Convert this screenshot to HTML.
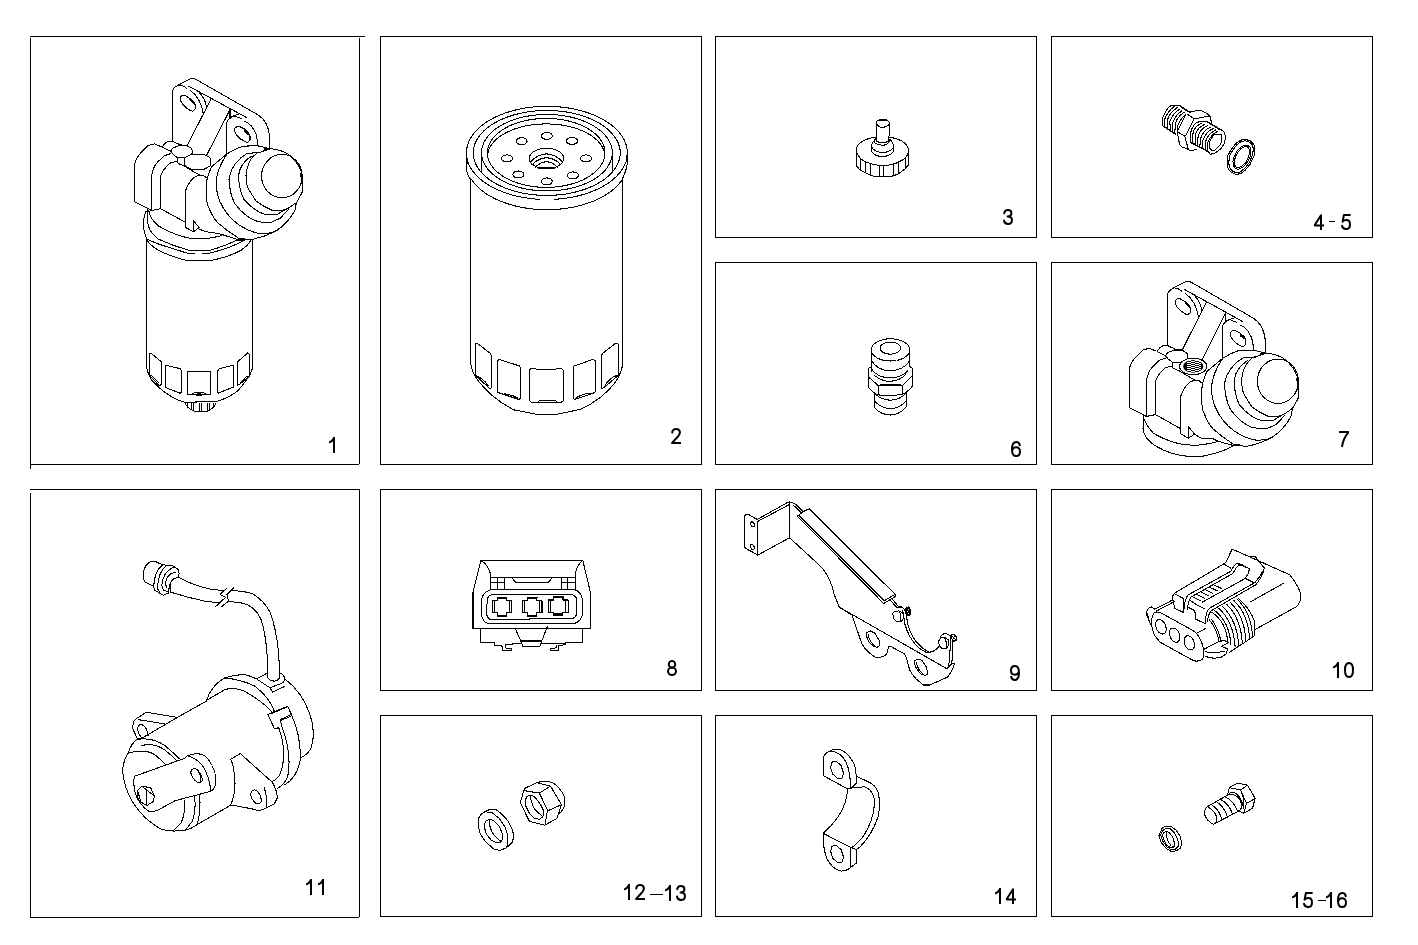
<!DOCTYPE html>
<html><head><meta charset="utf-8">
<style>
html,body{margin:0;padding:0;background:#fff;}
body{width:1418px;height:945px;overflow:hidden;position:relative;font-family:"Liberation Sans",sans-serif;}
svg{position:absolute;left:0;top:0;}
.bx{fill:none;stroke:#000;stroke-width:1;shape-rendering:crispEdges;}
.d path,.d ellipse,.d circle,.d line,.d polyline,.d polygon,.d rect{fill:none;stroke:#000;stroke-width:1.03;shape-rendering:crispEdges;stroke-linecap:round;stroke-linejoin:round;}
.d .w{fill:#fff;}
.d .k{fill:#000;}
.d .t{stroke-width:2;}
.g path,.g ellipse{fill:none;stroke:#000;stroke-width:2;stroke-linecap:butt;stroke-linejoin:round;}
.g .r{stroke-linecap:round;}
.ds{stroke:#000;stroke-width:1;shape-rendering:crispEdges;}
</style></head>
<body>
<svg width="1418" height="945" viewBox="0 0 1418 945">
<g class="bx">
<path d="M30 36.5H365 M30.5 38V469 M359.5 38V464 M30 464.5H359"/>
<path d="M30 489.5H359 M30.5 493V917 M359.5 489V917 M30 917.5H359"/>
<rect x="380.5" y="36.5" width="321" height="428"/>
<rect x="715.5" y="36.5" width="321" height="201"/>
<rect x="1051.5" y="36.5" width="321" height="201"/>
<rect x="715.5" y="262.5" width="321" height="202"/>
<rect x="1051.5" y="262.5" width="321" height="202"/>
<rect x="380.5" y="489.5" width="321" height="201"/>
<rect x="715.5" y="489.5" width="321" height="201"/>
<rect x="1051.5" y="489.5" width="321" height="201"/>
<rect x="380.5" y="715.5" width="321" height="201"/>
<rect x="715.5" y="715.5" width="321" height="201"/>
<rect x="1051.5" y="715.5" width="321" height="201"/>
</g>
<g class="g">
<g transform="translate(329,437)"><path d="M5 0V16"/><path class="r" d="M4.6 1.6L3 3.8L0.9 5.1"/></g>
<g transform="translate(671,428)"><path class="r" d="M1.2 4.6C1.4 2.3 2.8 1 5 1C7.4 1 8.9 2.4 8.9 4.5C8.9 6.5 7.7 7.9 5.6 10L1.5 14.4"/><path d="M0.4 15H10"/></g>
<g transform="translate(1003,209)"><path class="r" d="M1.2 4.3C1.6 2.2 2.9 1 4.9 1C7 1 8.4 2.3 8.4 4.2C8.4 6 7.2 7.3 4.6 7.4C7.6 7.4 9 9 9 11C9 13.4 7.4 15 5 15C2.8 15 1.4 13.8 1 11.5"/></g>
<g transform="translate(1314,214)"><path d="M7 16V1.2L0.9 10.8V11.5H10"/></g>
<g transform="translate(1341,214)"><path class="r" d="M8.9 1H2.9L1.6 7.7C2.6 6.5 3.8 6 5.2 6C7.6 6 9 7.8 9 10.4C9 13.1 7.4 15 5 15C2.8 15 1.4 13.8 1 11.7"/></g>
<g transform="translate(1011,441)"><path class="r" d="M8.8 4.3C8.4 2.2 7.2 1 5.2 1C2.4 1 1 3.8 1 8.4C1 12.8 2.4 15 5.1 15C7.5 15 9 13.2 9 10.5C9 7.9 7.5 6.3 5.2 6.3C3.2 6.3 1.6 7.5 1.1 9.5"/></g>
<g transform="translate(1339,431)"><path d="M0 1H10"/><path d="M9.2 1.6C6 5.2 3.8 10 3 16"/></g>
<g transform="translate(667,660)"><ellipse cx="5" cy="4.4" rx="3.2" ry="3.4"/><ellipse cx="5" cy="11.3" rx="4" ry="3.7"/></g>
<g transform="translate(1010,665)"><path class="r" d="M1.2 11.7C1.6 13.8 2.8 15 4.8 15C7.6 15 9 12.2 9 7.6C9 3.2 7.6 1 4.9 1C2.5 1 1 2.8 1 5.5C1 8.1 2.5 9.7 4.8 9.7C6.8 9.7 8.4 8.5 8.9 6.5"/></g>
<g transform="translate(1333,662)"><path d="M5 0V16"/><path class="r" d="M4.6 1.6L3 3.8L0.9 5.1"/></g>
<g transform="translate(1344,662)"><path d="M5 1C2.3 1 1 3.6 1 8C1 12.4 2.3 15 5 15C7.7 15 9 12.4 9 8C9 3.6 7.7 1 5 1Z"/></g>
<g transform="translate(306,879)"><path d="M5 0V16"/><path class="r" d="M4.6 1.6L3 3.8L0.9 5.1"/></g>
<g transform="translate(318,879)"><path d="M5 0V16"/><path class="r" d="M4.6 1.6L3 3.8L0.9 5.1"/></g>
<g transform="translate(624,884)"><path d="M5 0V16"/><path class="r" d="M4.6 1.6L3 3.8L0.9 5.1"/></g>
<g transform="translate(635,884)"><path class="r" d="M1.2 4.6C1.4 2.3 2.8 1 5 1C7.4 1 8.9 2.4 8.9 4.5C8.9 6.5 7.7 7.9 5.6 10L1.5 14.4"/><path d="M0.4 15H10"/></g>
<g transform="translate(665,885)"><path d="M5 0V16"/><path class="r" d="M4.6 1.6L3 3.8L0.9 5.1"/></g>
<g transform="translate(676,885)"><path class="r" d="M1.2 4.3C1.6 2.2 2.9 1 4.9 1C7 1 8.4 2.3 8.4 4.2C8.4 6 7.2 7.3 4.6 7.4C7.6 7.4 9 9 9 11C9 13.4 7.4 15 5 15C2.8 15 1.4 13.8 1 11.5"/></g>
<g transform="translate(995,888)"><path d="M5 0V16"/><path class="r" d="M4.6 1.6L3 3.8L0.9 5.1"/></g>
<g transform="translate(1006,888)"><path d="M7 16V1.2L0.9 10.8V11.5H10"/></g>
<g transform="translate(1292,892)"><path d="M5 0V16"/><path class="r" d="M4.6 1.6L3 3.8L0.9 5.1"/></g>
<g transform="translate(1303,892)"><path class="r" d="M8.9 1H2.9L1.6 7.7C2.6 6.5 3.8 6 5.2 6C7.6 6 9 7.8 9 10.4C9 13.1 7.4 15 5 15C2.8 15 1.4 13.8 1 11.7"/></g>
<g transform="translate(1326,892)"><path d="M5 0V16"/><path class="r" d="M4.6 1.6L3 3.8L0.9 5.1"/></g>
<g transform="translate(1337,892)"><path class="r" d="M8.8 4.3C8.4 2.2 7.2 1 5.2 1C2.4 1 1 3.8 1 8.4C1 12.8 2.4 15 5.1 15C7.5 15 9 13.2 9 10.5C9 7.9 7.5 6.3 5.2 6.3C3.2 6.3 1.6 7.5 1.1 9.5"/></g>
</g>
<line class="ds" x1="1329" y1="221.5" x2="1335" y2="221.5"/>
<line class="ds" x1="650" y1="894.5" x2="663" y2="894.5"/>
<line class="ds" x1="1318" y1="900.5" x2="1326" y2="900.5"/>
<g class="d">
<g id="p7">
<path d="M1167.4 345.2L1167.4 295.3Q1167.8 291.1 1172.5 288.5L1184.3 282.2Q1187.7 280.2 1191.9 282.6L1250.8 316.7Q1259.2 321.4 1262.2 328.2Q1265.3 334.9 1265.6 343.4L1265.6 352.7"/>
<path d="M1175.0 288.1Q1179.2 288.4 1181.8 291.5"/>
<path d="M1183.9 289.2L1225.8 312.2L1242.7 321.6"/>
<path d="M1185.2 293.2Q1196.2 301.2 1198.5 317.3"/>
<path d="M1194.5 295.7Q1200.4 301.2 1201.7 310.4"/>
<path d="M1206.3 302.5L1182.2 350.0"/>
<path d="M1225.8 312.7L1201.7 360.3"/>
<path d="M1225.6 312.5L1225.6 322.2"/>
<path d="M1222.4 358.2L1222.4 326.5Q1224.1 321.4 1229.6 319.5L1236.8 322.4"/>
<path d="M1229.6 319.5L1234.3 317.8"/>
<path d="M1240.2 325.2Q1244.0 326.3 1247.4 330.3L1251.6 337.5Q1253.3 343.4 1253.5 350.2"/>
<path d="M1175.4 300.4L1177.5 298.3L1179.2 298.3L1184.3 301.2L1189.4 306.3L1190.7 308.8L1190.2 312.7L1187.7 314.8L1186.0 314.4L1180.9 311.0L1177.5 307.6L1175.4 303.8Z"/>
<path class="t" d="M1185.6 302.5L1189.0 306.3"/>
<path d="M1230.5 332.4L1232.6 330.3L1234.7 330.3L1239.8 332.8L1244.0 336.6L1245.7 340.0L1245.7 344.2L1243.6 346.6L1241.9 346.4L1236.4 343.4L1232.6 339.6L1230.3 335.8Z"/>
<path class="t" d="M1240.6 335.4L1243.6 337.9"/>
<path d="M1156.0 351.0L1149.2 348.3L1142.8 350.0L1134.8 358.2Q1130.2 363.7 1129.3 369.6L1129.3 407.7L1143.7 415.0L1146.2 416.5L1155.5 414.6"/>
<path d="M1165.7 358.2L1159.4 360.3L1152.2 367.1Q1147.9 372.2 1146.7 379.8L1146.7 416.5"/>
<path d="M1179.2 370.9L1173.3 368.3L1172.0 366.2L1165.7 367.5Q1157.2 374.7 1155.5 381.5L1155.5 414.6L1180.5 428.6"/>
<path d="M1179.2 370.9L1194.9 380.2L1198.7 380.5L1202.1 383.2"/>
<path d="M1167.4 345.5L1163.2 345.5Q1158.9 347.6 1157.2 351.4L1165.7 356.1"/>
<path d="M1167.4 345.5L1175.0 349.1L1182.2 350.0"/>
<path d="M1165.7 355.7L1167.4 352.7L1174.2 350.0L1182.2 350.2L1186.9 353.1L1187.7 356.9L1186.9 359.0L1180.9 362.2L1172.5 362.4L1167.8 358.6Z"/>
<path d="M1172.5 362.4L1172.0 366.2"/>
<path d="M1265.6 353.0L1253.5 350.2L1238.9 350.5Q1230.5 353.0 1222.4 358.5L1206.7 371.7"/>
<path d="M1206.7 371.7L1202.5 383.2Q1200.6 395.2 1202.5 409.5Q1208.0 423.9 1213.1 429.0Q1221.5 436.6 1233.4 444.2L1233.8 444.7L1245.7 446.4Q1259.2 444.2 1271.9 437.5Q1284.6 429.0 1291.0 416.3L1292.7 407.8"/>
<path d="M1222.4 359.0Q1212.7 372.9 1211.4 387.3Q1211.8 399.4 1215.2 407.0Q1222.0 422.2 1233.8 430.7Q1246.5 439.2 1257.5 440.4L1267.7 439.2L1272.8 436.8"/>
<path d="M1243.2 357.7Q1227.9 367.0 1224.8 382.2L1224.5 385.0Q1225.4 400.2 1230.5 409.5Q1239.8 422.2 1250.8 426.9L1258.4 428.6L1267.7 428.3L1276.2 424.4L1284.6 415.5"/>
<path d="M1247.4 360.7Q1236.0 367.8 1234.3 379.7L1234.3 385.0Q1235.5 397.7 1239.8 405.3Q1249.9 417.2 1260.1 420.1L1273.6 420.1L1281.2 415.6L1284.6 413.8"/>
<path d="M1254.2 356.8Q1243.2 362.8 1241.6 380.5L1241.9 385.0Q1242.3 390.9 1244.0 394.3L1251.6 406.6Q1258.4 412.1 1267.7 416.1L1278.7 416.3L1284.6 413.8L1292.7 408.3"/>
<path d="M1265.6 353.0Q1276.2 354.1 1282.9 357.9Q1293.1 364.9 1297.1 376.3Q1298.8 382.2 1298.6 397.5L1292.7 408.5"/>
<path d="M1243.2 357.7L1254.2 357.5L1265.6 353.3"/>
<path class="t" d="M1260.9 353.7L1265.6 353.2"/>
<path class="t" d="M1297.3 378.8L1298.3 389.0"/>
<path d="M1194.9 380.5Q1190.2 381.0 1186.9 384.9Q1180.9 392.5 1180.5 398.4L1180.5 398.5L1180.5 433.7L1188.4 438.3L1188.4 426.5L1194.5 434.1L1188.4 438.3"/>
<path d="M1194.5 434.1L1201.2 438.3L1212.2 438.3L1218.2 441.3L1233.4 445.5"/>
<path class="t" d="M1233.4 445.3L1240.0 445.4"/>
<path d="M1143.7 415.5L1143.0 429.0Q1144.5 439.2 1155.5 445.9Q1170.8 455.2 1189.4 456.5L1201.2 456.5Q1221.5 452.7 1233.4 445.9"/>
<path d="M1144.1 418.8Q1145.4 423.9 1153.0 432.8Q1162.3 439.2 1179.2 443.8L1194.5 445.5Q1208.9 444.2 1218.2 441.5"/>
<ellipse cx="1277.9" cy="381.2" rx="20.5" ry="22.2"/>
<ellipse cx="1193.2" cy="366.4" rx="13.6" ry="8.3"/>
<clipPath id="pc"><ellipse cx="1193.2" cy="366.4" rx="10" ry="6.4"/></clipPath>
<g clip-path="url(#pc)" style="shape-rendering:crispEdges"><rect x="1182" y="358" width="4.8" height="17" style="fill:#000;stroke:none"/><rect x="1201.4" y="358" width="3" height="17" style="fill:#000;stroke:none"/><rect x="1187.2" y="359" width="3.8" height="1" style="fill:#000;stroke:none"/><rect x="1187.2" y="361" width="3.8" height="1" style="fill:#000;stroke:none"/><rect x="1187.2" y="363" width="3.8" height="1" style="fill:#000;stroke:none"/><rect x="1187.2" y="365" width="3.8" height="1" style="fill:#000;stroke:none"/><rect x="1187.2" y="367" width="3.8" height="1" style="fill:#000;stroke:none"/><rect x="1187.2" y="369" width="3.8" height="1" style="fill:#000;stroke:none"/><rect x="1187.2" y="371" width="3.8" height="1" style="fill:#000;stroke:none"/><rect x="1187.2" y="373" width="3.8" height="1" style="fill:#000;stroke:none"/><rect x="1191.2" y="360" width="3.9" height="1" style="fill:#000;stroke:none"/><rect x="1191.2" y="362" width="3.9" height="1" style="fill:#000;stroke:none"/><rect x="1191.2" y="364" width="3.9" height="1" style="fill:#000;stroke:none"/><rect x="1191.2" y="366" width="3.9" height="1" style="fill:#000;stroke:none"/><rect x="1191.2" y="368" width="3.9" height="1" style="fill:#000;stroke:none"/><rect x="1191.2" y="370" width="3.9" height="1" style="fill:#000;stroke:none"/><rect x="1191.2" y="372" width="3.9" height="1" style="fill:#000;stroke:none"/><rect x="1195.4" y="359" width="3.8" height="1" style="fill:#000;stroke:none"/><rect x="1195.4" y="361" width="3.8" height="1" style="fill:#000;stroke:none"/><rect x="1195.4" y="363" width="3.8" height="1" style="fill:#000;stroke:none"/><rect x="1195.4" y="365" width="3.8" height="1" style="fill:#000;stroke:none"/><rect x="1195.4" y="367" width="3.8" height="1" style="fill:#000;stroke:none"/><rect x="1195.4" y="369" width="3.8" height="1" style="fill:#000;stroke:none"/><rect x="1195.4" y="371" width="3.8" height="1" style="fill:#000;stroke:none"/><rect x="1195.4" y="373" width="3.8" height="1" style="fill:#000;stroke:none"/><rect x="1199.4" y="360" width="2.0" height="1" style="fill:#000;stroke:none"/><rect x="1199.4" y="362" width="2.0" height="1" style="fill:#000;stroke:none"/><rect x="1199.4" y="364" width="2.0" height="1" style="fill:#000;stroke:none"/><rect x="1199.4" y="366" width="2.0" height="1" style="fill:#000;stroke:none"/><rect x="1199.4" y="368" width="2.0" height="1" style="fill:#000;stroke:none"/><rect x="1199.4" y="370" width="2.0" height="1" style="fill:#000;stroke:none"/><rect x="1199.4" y="372" width="2.0" height="1" style="fill:#000;stroke:none"/></g>
</g>
<g id="p1">
<path d="M172.4 140.9L172.4 92.2Q172.8 88.0 177.4 85.6L189.2 79.4Q192.5 77.5 196.7 79.8L255.0 113.1Q263.4 117.6 266.4 124.3Q269.5 130.9 269.7 139.1L269.7 148.2"/>
<path d="M179.9 85.2Q184.1 85.4 186.6 88.5"/>
<path d="M188.7 86.2L230.3 108.7L247.1 117.8"/>
<path d="M190.0 90.1Q200.9 98.0 203.3 113.7"/>
<path d="M199.2 92.6Q205.1 98.0 206.4 106.9"/>
<path d="M211.0 99.2L187.1 145.6"/>
<path d="M230.3 109.1L206.4 155.7"/>
<path d="M230.0 109.0L230.0 118.5"/>
<path d="M226.9 153.6L226.9 122.6Q228.6 117.6 234.1 115.8L241.2 118.6"/>
<path d="M234.1 115.8L238.7 114.2"/>
<path d="M244.5 121.4Q248.3 122.4 251.7 126.3L255.9 133.3Q257.5 139.1 257.7 145.7"/>
<path d="M180.4 97.1L182.5 95.1L184.1 95.1L189.2 98.0L194.2 102.9L195.5 105.4L195.0 109.1L192.5 111.2L190.8 110.8L185.8 107.5L182.5 104.2L180.4 100.4Z"/>
<path class="t" d="M190.4 99.2L193.8 102.9"/>
<path d="M234.9 128.4L237.0 126.3L239.1 126.3L244.1 128.8L248.3 132.5L250.0 135.8L250.0 140.0L247.9 142.3L246.2 142.0L240.8 139.1L237.0 135.4L234.7 131.7Z"/>
<path class="t" d="M245.0 131.3L247.9 133.8"/>
<path d="M161.1 146.6L154.4 143.9L148.1 145.6L140.1 153.6Q135.5 159.0 134.6 164.7L134.6 201.9L148.9 209.1L151.4 210.5L160.6 208.7"/>
<path d="M170.7 153.6L164.4 155.7L157.3 162.3Q153.1 167.2 151.8 174.7L151.8 210.5"/>
<path d="M184.1 166.0L178.3 163.5L177.0 161.4L170.7 162.7Q162.3 169.7 160.6 176.3L160.6 208.7L185.4 222.3"/>
<path d="M184.1 166.0L199.6 175.1L203.4 175.3L206.8 178.0"/>
<path d="M172.4 141.2L168.2 141.2Q164.0 143.3 162.3 147.0L170.7 151.5"/>
<path d="M172.4 141.2L179.9 144.7L187.1 145.6"/>
<path d="M170.7 151.1L172.4 148.2L179.1 145.6L187.1 145.7L191.7 148.6L192.5 152.3L191.7 154.4L185.8 157.5L177.4 157.7L172.8 154.0Z"/>
<path d="M177.4 157.7L177.0 161.4"/>
<path d="M269.7 148.6L257.7 145.8L243.3 146.1Q234.9 148.6 226.9 153.9L211.4 166.8"/>
<path d="M211.4 166.8L207.2 178.0Q205.3 189.7 207.2 203.7Q212.6 217.8 217.7 222.7Q226.1 230.2 237.8 237.6L238.3 238.0L250.0 239.7Q263.4 237.6 276.0 231.0Q288.6 222.7 294.9 210.3L296.5 202.1"/>
<path d="M226.9 154.3Q217.3 168.0 216.0 182.0Q216.5 193.8 219.8 201.3Q226.5 216.1 238.3 224.4Q250.8 232.7 261.7 233.9L271.8 232.7L276.8 230.3"/>
<path d="M247.5 153.1Q232.4 162.2 229.3 177.1L229.0 179.8Q229.9 194.6 234.9 203.7Q244.1 216.1 255.0 220.7L262.6 222.3L271.8 222.1L280.2 218.2L288.6 209.5"/>
<path d="M251.7 156.0Q240.4 163.0 238.7 174.6L238.7 179.8Q239.9 192.2 244.1 199.6Q254.2 211.2 264.3 214.1L277.7 214.1L285.2 209.7L288.6 207.9"/>
<path d="M258.4 152.3Q247.5 158.1 246.0 175.4L246.2 179.8Q246.6 185.5 248.3 188.9L255.9 200.8Q262.6 206.2 271.8 210.2L282.7 210.3L288.6 207.9L296.5 202.5"/>
<path d="M269.7 148.6Q280.2 149.6 286.9 153.3Q297.0 160.1 301.0 171.3Q302.7 177.1 302.4 191.9L296.5 202.7"/>
<path d="M247.5 153.1L258.4 152.9L269.7 148.8"/>
<path class="t" d="M265.1 149.2L269.7 148.7"/>
<path class="t" d="M301.2 173.8L302.2 183.7"/>
<path d="M199.6 175.3Q195.0 175.9 191.7 179.6Q185.8 187.1 185.4 192.8L185.4 193.0L185.4 227.3L193.2 231.8L193.2 220.3L199.2 227.7L193.2 231.8"/>
<ellipse cx="281.9" cy="176.1" rx="20.3" ry="21.7"/>
<path class="w" d="M184.5 159.0L186.2 156.7L191.2 154.4L203.5 154.4L209.4 157.3L210.7 159.5L210.7 165.4L205.6 168.6L202.7 169.6L192.1 169.6L187.8 167.5L184.5 165.4Z"/>
<path d="M177.5 157.8L177.5 162.4"/>
<path d="M199.1 228.9Q205.4 232.6 218.1 233.3L237.1 239.4"/>
<path class="t" d="M237.1 239.9L244.5 240.2"/>
<path d="M148.8 210.9Q150.4 219.3 158.9 226.2Q175.8 236.3 193.8 238.9L205.4 238.9Q214.9 237.3 221.3 235.7"/>
<path d="M147.7 209.8Q145.6 221.4 150.4 231.0L157.8 238.9Q172.6 245.8 189.5 250.5L209.6 250.5Q225.5 245.8 237.1 240.0"/>
<path d="M146.2 210.9Q143.0 218.3 143.5 226.7Q144.6 235.2 147.2 239.4L158.9 244.2L187.4 253.2L194.8 253.5"/>
<path d="M202.2 253.5L209.6 253.2Q230.8 247.9 244.5 240.3"/>
<path d="M146.7 239.4Q149.3 244.7 157.8 250.0Q172.6 257.4 187.4 260.6L210.7 260.6Q230.8 256.4 241.4 250.0Q247.7 245.8 250.9 240.5"/>
<path d="M146.7 239.4L146.7 367.3Q147.7 374.7 152.5 381.1L158.9 387.4Q170.5 398.0 184.2 402.2L216.0 401.7Q228.7 398.0 238.2 390.6L245.6 381.1Q251.4 374.7 252.8 366.3L252.5 240.5"/>
<path d="M149.3 354.1L150.9 353.0L161.0 361.5L161.5 384.8L158.9 385.3L149.9 375.8Z"/>
<path d="M149.9 375.8L152.0 376.0L158.9 383.0"/>
<path d="M165.2 365.2L180.0 368.6L181.6 371.0L181.6 392.7L180.0 393.2L165.2 387.4Z"/>
<path d="M187.4 372.1L188.5 371.2L209.6 371.2L210.7 372.1L210.2 394.3L187.4 394.3Z"/>
<path d="M192.7 394.0L194.8 392.7L203.8 392.7L205.4 394.0"/>
<path d="M217.6 371.0L219.2 368.6L233.4 365.2L233.7 386.9L218.1 393.2L217.6 392.7Z"/>
<path d="M237.3 362.0L247.7 353.0L249.6 354.6L249.6 375.8L239.8 384.2L237.3 385.3Z"/>
<path d="M249.6 376.0L246.7 376.3L239.8 383.0"/>
<path d="M184.8 402.8Q187.4 408.6 194.8 411.5L206.5 411.5Q212.8 409.6 216.0 403.3"/>
<path d="M187.9 403.3L187.9 407.5"/>
<path d="M191.6 403.3L191.6 409.6"/>
<path d="M193.2 403.3L193.2 410.9"/>
<path d="M199.1 403.3L199.1 411.3"/>
<path d="M201.2 403.3L201.2 411.3"/>
<path d="M207.5 403.3L207.5 410.9"/>
<path d="M209.6 403.3L209.6 409.6"/>
<path d="M213.3 403.3L213.3 407.0"/>
<ellipse cx="199" cy="394.6" rx="2.6" ry="0.9"/>
</g>
<g id="p2">
<path d="M539.2 199.3L533.8 198.9L528.4 198.3L523.2 197.4L518.0 196.4L513.0 195.2L508.2 193.8L503.5 192.1L499.0 190.3L494.7 188.4L490.7 186.3L486.9 184.0L483.4 181.6L480.2 179.0L477.3 176.3L474.8 173.6L472.5 170.7L470.6 167.8L469.0 164.7L467.8 161.7L467.0 158.5L466.5 155.4L466.4 152.2L466.7 149.1L467.3 146.0L468.3 142.9L469.6 139.8L471.4 136.8L473.4 133.9L475.8 131.1L478.5 128.3L481.5 125.7L484.9 123.2L488.5 120.8L492.4 118.6L496.5 116.6L500.8 114.7L505.4 113.0L510.2 111.4L515.1 110.1L520.2 108.9L525.4 108.0L530.7 107.3L536.0 106.7L541.5 106.4L546.9 106.3L552.3 106.4L557.8 106.7L563.1 107.3L568.4 108.0L573.6 108.9L578.7 110.1L583.6 111.4L588.4 113.0L593.0 114.7L597.3 116.6L601.5 118.6L605.3 120.8L608.9 123.2L612.3 125.7L615.3 128.3L618.0 131.1L620.4 133.9L622.5 136.8L624.2 139.8L625.5 142.9L626.5 146.0L627.1 149.1L627.4 152.2L627.3 155.4L626.8 158.5L626.0 161.7L624.8 164.7L623.2 167.8L621.3 170.7L619.0 173.6L616.5 176.3L613.6 179.0L610.4 181.6L606.9 184.0L603.1 186.3L599.1 188.4L594.8 190.3L590.3 192.1L585.6 193.8L580.8 195.2L575.8 196.4L570.6 197.4L565.4 198.3L560.0 198.9L554.6 199.3"/>
<path d="M620.2 152.9L620.0 156.3L619.3 159.6L618.2 162.9L616.6 166.1L614.6 169.2L612.2 172.2L609.4 175.2L606.2 177.9L602.6 180.6L598.7 183.0L594.4 185.3L589.9 187.3L585.1 189.2L580.1 190.8L574.8 192.2L569.4 193.4L563.9 194.3L558.2 194.9L552.5 195.3L546.7 195.4L540.9 195.3L535.2 194.9L529.5 194.3L524.0 193.4L518.6 192.2L513.3 190.8L508.3 189.2L503.5 187.3L499.0 185.3L494.7 183.0L490.8 180.6L487.2 177.9L484.0 175.2L481.2 172.2L478.8 169.2L476.8 166.1L475.2 162.9L474.1 159.6L473.4 156.3L473.2 152.9L473.4 149.6L474.1 146.3L475.2 143.0L476.8 139.8L478.8 136.7L481.2 133.7L484.0 130.7L487.2 128.0L490.8 125.3L494.7 122.9L499.0 120.6L503.5 118.6L508.3 116.7L513.3 115.1L518.6 113.7L524.0 112.5L529.5 111.6L535.2 111.0L540.9 110.6L546.7 110.5L552.5 110.6L558.2 111.0L563.9 111.6L569.4 112.5L574.8 113.7L580.1 115.1L585.1 116.7L589.9 118.6L594.4 120.6L598.7 122.9L602.6 125.3L606.2 128.0L609.4 130.7L612.2 133.7L614.6 136.7L616.6 139.8L618.2 143.0L619.3 146.3L620.0 149.6L620.2 152.9Z"/>
<path d="M612.3 152.7L612.1 155.7L611.5 158.7L610.5 161.6L609.1 164.5L607.3 167.4L605.2 170.1L602.7 172.7L599.8 175.2L596.6 177.6L593.1 179.8L589.4 181.8L585.3 183.7L581.1 185.4L576.6 186.8L571.9 188.1L567.1 189.1L562.2 189.9L557.1 190.5L552.0 190.9L546.9 191.0L541.8 190.9L536.7 190.5L531.6 189.9L526.7 189.1L521.9 188.1L517.2 186.8L512.7 185.4L508.5 183.7L504.4 181.8L500.7 179.8L497.2 177.6L494.0 175.2L491.1 172.7L488.6 170.1L486.5 167.4L484.7 164.5L483.3 161.6L482.3 158.7L481.7 155.7L481.5 152.7L481.7 149.7L482.3 146.7L483.3 143.8L484.7 140.9L486.5 138.0L488.6 135.3L491.1 132.7L494.0 130.2L497.2 127.8L500.7 125.6L504.4 123.6L508.5 121.7L512.7 120.0L517.2 118.6L521.9 117.3L526.7 116.3L531.6 115.5L536.7 114.9L541.8 114.5L546.9 114.4L552.0 114.5L557.1 114.9L562.2 115.5L567.1 116.3L571.9 117.3L576.6 118.6L581.1 120.0L585.3 121.7L589.4 123.6L593.1 125.6L596.6 127.8L599.8 130.2L602.7 132.7L605.2 135.3L607.3 138.0L609.1 140.9L610.5 143.8L611.5 146.7L612.1 149.7L612.3 152.7Z"/>
<path d="M605.0 152.9L604.8 156.0L604.1 159.1L602.9 162.1L601.2 165.0L599.2 167.9L596.7 170.6L593.8 173.2L590.5 175.6L586.8 177.8L582.9 179.9L578.6 181.7L574.1 183.3L569.3 184.6L564.4 185.7L559.3 186.5L554.1 187.1L548.8 187.4L543.6 187.4L538.3 187.1L533.1 186.5L528.0 185.7L523.1 184.6L518.3 183.3L513.8 181.7L509.5 179.9L505.6 177.8L501.9 175.6L498.6 173.2L495.7 170.6L493.2 167.9L491.1 165.0L489.5 162.1L488.3 159.1L487.6 156.0L487.4 152.9L487.6 149.8L488.3 146.7L489.5 143.7L491.1 140.8L493.2 137.9L495.7 135.2L498.6 132.6L501.9 130.2L505.6 128.0L509.5 125.9L513.8 124.1L518.3 122.5L523.1 121.2L528.0 120.1L533.1 119.3L538.3 118.7L543.6 118.4L548.8 118.4L554.1 118.7L559.3 119.3L564.4 120.1L569.3 121.2L574.1 122.5L578.6 124.1L582.9 125.9L586.8 128.0L590.5 130.2L593.8 132.6L596.7 135.2L599.2 137.9L601.2 140.8L602.9 143.7L604.1 146.7L604.8 149.8L605.0 152.9Z"/>
<path d="M487.7 154.6L488.0 152.6L488.5 150.7L489.2 148.8L490.1 146.9L491.3 145.0L492.6 143.2L494.2 141.4L495.9 139.7L497.8 138.0L499.9 136.4L502.2 134.9L504.6 133.5L507.2 132.1L509.9 130.9L512.8 129.7L515.7 128.6L518.8 127.7L522.0 126.8L525.3 126.0L528.7 125.4L532.1 124.8L535.6 124.4L539.1 124.1L542.6 124.0L546.2 123.9L549.8 124.0L553.3 124.1L556.8 124.4L560.3 124.8L563.7 125.4L567.1 126.0L570.4 126.8L573.6 127.7L576.7 128.6L579.6 129.7L582.5 130.9L585.2 132.1L587.8 133.5L590.2 134.9L592.5 136.4L594.6 138.0L596.5 139.7L598.2 141.4L599.8 143.2L601.1 145.0L602.3 146.9L603.2 148.8L603.9 150.7L604.4 152.6L604.7 154.6"/>
<path d="M622.5 179.0L621.1 181.2L619.5 183.2L617.7 185.3L615.8 187.2L613.6 189.2L611.4 191.0L608.9 192.8L606.4 194.5L603.6 196.2L600.8 197.7L597.8 199.2L594.7 200.6L591.5 201.9L588.1 203.1L584.7 204.2L581.2 205.3L577.6 206.2L573.9 207.0L570.2 207.7L566.4 208.3L562.5 208.8L558.7 209.2L554.8 209.5L550.8 209.6L546.9 209.7L543.0 209.6L539.0 209.5L535.1 209.2L531.3 208.8L527.4 208.3L523.6 207.7L519.9 207.0L516.2 206.2L512.6 205.3L509.1 204.2L505.7 203.1L502.4 201.9L499.1 200.6L496.0 199.2L493.0 197.7L490.2 196.2L487.4 194.5L484.9 192.8L482.4 191.0L480.2 189.2L478.0 187.2L476.1 185.3L474.3 183.2L472.7 181.2L471.2 179.0"/>
<path d="M466.4 150.0L466.4 169.6Q467.5 175.0 470.4 179.3L470.4 300.0"/>
<path d="M627.4 150.0L627.4 163.0Q626.5 171.0 622.7 178.3L622.7 300.0"/>
<path d="M481.5 152.7L481.5 172.3"/>
<path d="M612.3 152.7L612.3 171.7"/>
<path class="t" d="M466.9 160.5L467.3 163.5"/>
<path class="t" d="M626.9 156.0L626.9 160.0"/>
<path d="M552.3 135.9L551.9 137.2L550.7 138.4L548.9 139.1L546.8 139.4L544.7 139.1L542.9 138.4L541.7 137.2L541.3 135.9L541.7 134.6L542.9 133.4L544.7 132.7L546.8 132.4L548.9 132.7L550.7 133.4L551.9 134.6L552.3 135.9Z"/>
<path d="M527.1 141.2L526.7 142.5L525.5 143.7L523.7 144.4L521.6 144.7L519.5 144.4L517.7 143.7L516.5 142.5L516.1 141.2L516.5 139.9L517.7 138.7L519.5 138.0L521.6 137.7L523.7 138.0L525.5 138.7L526.7 139.9L527.1 141.2Z"/>
<path d="M577.5 141.0L577.1 142.3L575.9 143.5L574.1 144.2L572.0 144.5L569.9 144.2L568.1 143.5L566.9 142.3L566.5 141.0L566.9 139.7L568.1 138.5L569.9 137.8L572.0 137.5L574.1 137.8L575.9 138.5L577.1 139.7L577.5 141.0Z"/>
<path d="M512.5 158.4L512.1 159.7L510.9 160.9L509.1 161.6L507.0 161.9L504.9 161.6L503.1 160.9L501.9 159.7L501.5 158.4L501.9 157.1L503.1 155.9L504.9 155.2L507.0 154.9L509.1 155.2L510.9 155.9L512.1 157.1L512.5 158.4Z"/>
<path d="M591.5 158.4L591.1 159.7L589.9 160.9L588.1 161.6L586.0 161.9L583.9 161.6L582.1 160.9L580.9 159.7L580.5 158.4L580.9 157.1L582.1 155.9L583.9 155.2L586.0 154.9L588.1 155.2L589.9 155.9L591.1 157.1L591.5 158.4Z"/>
<path d="M523.9 174.5L523.5 175.8L522.3 177.0L520.5 177.7L518.4 178.0L516.3 177.7L514.5 177.0L513.3 175.8L512.9 174.5L513.3 173.2L514.5 172.0L516.3 171.3L518.4 171.0L520.5 171.3L522.3 172.0L523.5 173.2L523.9 174.5Z"/>
<path d="M578.4 175.4L578.0 176.7L576.8 177.9L575.0 178.6L572.9 178.9L570.8 178.6L569.0 177.9L567.8 176.7L567.4 175.4L567.8 174.1L569.0 172.9L570.8 172.2L572.9 171.9L575.0 172.2L576.8 172.9L578.0 174.1L578.4 175.4Z"/>
<path d="M552.3 181.4L551.9 182.7L550.7 183.9L548.9 184.6L546.8 184.9L544.7 184.6L542.9 183.9L541.7 182.7L541.3 181.4L541.7 180.1L542.9 178.9L544.7 178.2L546.8 177.9L548.9 178.2L550.7 178.9L551.9 180.1L552.3 181.4Z"/>
<path d="M563.7 158.4L563.5 160.0L562.9 161.6L561.8 163.0L560.4 164.4L558.7 165.6L556.6 166.7L554.3 167.5L551.8 168.1L549.2 168.5L546.5 168.6L543.8 168.5L541.2 168.1L538.7 167.5L536.4 166.7L534.3 165.6L532.6 164.4L531.2 163.0L530.1 161.6L529.5 160.0L529.3 158.4L529.5 156.8L530.1 155.2L531.2 153.8L532.6 152.4L534.3 151.2L536.4 150.2L538.7 149.3L541.2 148.7L543.8 148.3L546.5 148.2L549.2 148.3L551.8 148.7L554.3 149.3L556.6 150.2L558.7 151.2L560.4 152.4L561.8 153.8L562.9 155.2L563.5 156.8L563.7 158.4Z"/>
<path d="M530.4 161.8Q546.5 146.0 562.6 161.8"/>
<path d="M532.0 164.6Q546.5 151.0 561.0 164.6"/>
<path d="M535.5 167.0Q546.5 156.5 557.5 167.0"/>
<path class="t" d="M539.0 168.3L554.0 168.3"/>
<path d="M470.4 300.0L470.4 361.6Q471.7 372.4 477.8 380.4Q492.5 399.2 514.0 409.9L538.1 414.6L555.5 414.6L581.0 409.2Q602.4 399.2 615.8 381.7Q621.8 372.4 622.8 363.0L622.8 300.0"/>
<path d="M475.1 344.2L477.1 343.1L490.5 353.6L491.8 356.3L491.4 387.8L489.6 388.4L475.1 375.0Z"/>
<path d="M475.8 375.7Q481.8 377.0 488.5 385.8Q481.8 383.1 475.8 375.7"/>
<path d="M497.2 361.0L499.2 359.4L519.3 365.9L520.7 367.7L520.7 398.5L518.6 399.4L497.9 392.5L497.2 391.1Z"/>
<path d="M504.6 393.8Q511.3 394.5 518.0 398.1"/>
<path d="M529.4 371.7Q529.4 368.6 532.7 368.3L538.1 369.4L554.2 369.4L560.2 368.3Q563.3 368.6 563.5 371.7L563.5 399.8Q563.3 402.1 560.2 402.5L532.7 402.5Q529.6 402.1 529.4 399.8Z"/>
<path d="M538.1 401.8L540.1 400.2L554.8 400.2L556.8 401.8"/>
<path d="M573.2 366.3L593.0 359.4L595.4 361.0L595.7 391.1L594.4 392.7L574.9 399.4L573.2 398.5Z"/>
<path d="M575.6 398.1Q582.3 393.8 590.3 393.1"/>
<path d="M601.3 356.3L602.4 353.6L615.8 343.1L618.5 344.2L618.7 375.0L603.7 387.8L601.7 388.4Z"/>
<path d="M604.4 386.7Q609.1 377.7 617.8 375.0Q610.4 383.1 604.4 386.7"/>
</g>
<g id="p3">
<path d="M856.1 151.1Q856.1 144.8 863.6 140.5Q872.1 136.7 882.3 136.7Q893.1 136.7 901.7 141.0Q908.5 144.8 908.5 151.1Q908.1 155.2 903.6 159.5L896.0 163.3L888.3 165.2L879.8 165.7L871.2 163.8L863.6 161.0Q857.9 157.1 856.1 151.1"/>
<path d="M856.1 151.1L856.1 165.7L860.7 170.5L870.2 175.2L876.0 176.7L890.2 176.7L897.9 174.3L905.5 168.6L908.5 164.8L908.5 151.1"/>
<path d="M860.2 159.2L860.2 170.2"/>
<path d="M865.7 162.1L865.7 173.0"/>
<path d="M870.7 164.0L870.7 175.2"/>
<path d="M879.6 165.7L879.6 176.7"/>
<path d="M883.1 165.7L883.1 176.7"/>
<path d="M893.9 164.4L893.9 175.4"/>
<path d="M898.6 162.7L898.6 173.8"/>
<path d="M905.3 158.6L905.3 168.8"/>
<path class="w" d="M871.7 146.7Q871.7 141.9 876.0 139.8L889.3 139.0Q893.3 141.9 893.6 146.7L893.3 151.4Q890.2 156.2 882.6 156.7Q875.0 156.2 871.7 151.9Z"/>
<path d="M871.7 146.7Q873.1 151.4 882.6 152.9Q892.1 151.4 893.6 146.7"/>
<path class="w" d="M875.5 138.6Q873.6 141.0 875.0 142.9Q879.8 145.9 884.5 145.0Q889.8 143.3 890.4 139.5Z"/>
<path class="w" d="M876.1 141.0L876.1 122.4Q876.4 120.5 878.8 120.0L886.9 120.0Q889.3 121.0 889.5 123.8L888.8 141.0Q882.6 144.8 876.1 141.0Z"/>
<path d="M876.5 123.8Q879.3 127.6 882.6 127.6Q886.9 127.1 889.5 123.8"/>
</g>
<g id="p45">
<path d="M1171.4 105.2Q1166.6 107.9 1162.4 118.6L1162.4 125.6"/>
<path d="M1174.9 105.8Q1167.1 111.9 1164.7 119.2L1164.4 126.8"/>
<path d="M1177.2 107.6Q1169.4 112.8 1167.3 120.4L1167.6 128.5"/>
<path d="M1179.5 109.3Q1172.7 113.7 1169.9 121.5L1170.2 130.3"/>
<path d="M1181.9 110.8Q1175.9 114.7 1172.8 122.7L1172.6 131.4"/>
<path d="M1184.2 112.2Q1177.0 116.9 1175.2 123.9L1174.9 133.2"/>
<path d="M1185.9 114.0Q1181.0 118.0 1177.2 126.8L1177.2 131.4"/>
<path d="M1171.4 105.2L1179.5 105.2L1189.7 112.2"/>
<path d="M1173.1 105.8L1179.5 105.8L1188.3 111.9"/>
<path d="M1162.4 125.6L1175.5 134.3"/>
<path d="M1164.4 126.5L1176.0 134.3"/>
<path d="M1189.7 112.2L1192.9 111.4L1198.7 110.4L1201.1 110.5L1208.6 114.6L1210.7 117.5L1211.3 123.3"/>
<path d="M1187.1 114.0L1194.1 118.9L1208.1 116.3L1209.2 115.1"/>
<path d="M1194.1 118.9L1185.9 134.9L1184.8 136.1L1188.3 149.5"/>
<path d="M1177.2 131.7L1184.8 136.1"/>
<path d="M1177.2 131.7L1179.5 144.2L1181.3 146.6L1188.3 149.5L1190.6 150.6L1197.0 149.5"/>
<path d="M1185.9 114.3L1177.2 131.4"/>
<path d="M1199.9 121.5Q1193.0 122.4 1190.3 133.8L1190.3 141.9"/>
<path d="M1202.2 123.0Q1194.2 125.7 1192.6 134.9L1192.3 143.1"/>
<path d="M1204.6 124.4Q1196.4 127.9 1195.3 136.1L1195.3 144.8"/>
<path d="M1207.5 125.6Q1199.4 128.8 1197.9 137.8L1197.9 146.6"/>
<path d="M1210.4 127.1Q1202.6 130.7 1200.2 139.6L1199.9 147.7"/>
<path d="M1213.3 128.5Q1205.7 131.7 1202.8 140.7L1202.8 148.9"/>
<path d="M1215.6 130.0Q1207.9 133.9 1205.4 141.9L1205.1 150.1"/>
<path d="M1217.4 131.4Q1210.7 134.9 1207.5 143.1L1207.2 150.6"/>
<path d="M1199.9 121.4L1206.9 121.4L1222.0 130.3"/>
<path d="M1201.7 121.9L1206.9 121.9L1220.3 130.0"/>
<path d="M1190.6 142.5L1209.2 152.4"/>
<path d="M1192.3 142.8L1207.5 151.2"/>
<path d="M1222.0 130.3L1224.4 132.6L1225.5 137.5L1224.4 143.1L1221.4 148.3L1213.9 153.8L1210.4 154.1L1206.9 150.9"/>
<path d="M1213.9 134.9L1216.2 134.1L1220.6 134.1L1221.7 135.5L1221.4 141.9L1219.7 145.4L1215.0 150.1L1211.6 150.1L1209.5 148.0L1209.2 143.1L1211.0 139.0Z"/>
<path d="M1240.5 140.2L1245.2 139.3L1250.0 140.7L1253.8 144.0L1254.8 148.3L1254.3 155.0L1250.0 164.5L1245.2 170.2L1240.5 173.6L1236.2 174.5L1231.9 172.6L1228.6 169.8L1227.1 164.5L1227.6 156.0L1231.0 149.8L1235.7 143.6Z"/>
<path d="M1241.0 141.7L1245.2 140.7L1249.5 142.1L1252.4 145.0L1253.3 148.8L1252.7 154.5L1249.0 163.1L1244.3 168.8L1240.0 172.0L1236.2 172.9L1232.9 171.2L1230.2 168.8L1228.9 164.0L1229.2 156.4L1232.4 150.7L1236.7 145.0Z"/>
<path d="M1243.8 145.5L1247.1 145.0L1250.0 146.9L1251.0 150.2L1250.5 156.0L1247.1 162.6L1242.9 166.9L1238.6 169.3L1235.7 168.8L1233.8 166.4L1232.9 161.7L1234.3 156.0L1237.6 150.2L1240.5 147.4Z"/>
<path d="M1244.3 146.9L1246.7 146.4L1248.6 147.9L1249.5 150.7L1249.0 155.5L1246.2 161.7L1242.4 165.7L1238.6 167.9L1236.2 167.4L1235.0 165.5L1234.3 161.7L1235.5 156.4L1238.6 151.2L1241.4 148.3Z"/>
</g>
<g id="p6">
<path d="M909.8 349.9L909.5 351.6L908.8 353.3L907.7 354.9L906.1 356.4L904.1 357.8L901.8 358.9L899.3 359.8L896.5 360.5L893.5 360.9L890.5 361.0L887.5 360.9L884.5 360.5L881.8 359.8L879.2 358.9L876.9 357.8L874.9 356.4L873.3 354.9L872.2 353.3L871.5 351.6L871.2 349.9L871.5 348.1L872.2 346.4L873.3 344.8L874.9 343.4L876.9 342.0L879.2 340.9L881.8 340.0L884.5 339.3L887.5 338.9L890.5 338.8L893.5 338.9L896.5 339.3L899.3 340.0L901.8 340.9L904.1 342.0L906.1 343.4L907.7 344.8L908.8 346.4L909.5 348.1L909.8 349.9Z"/>
<path d="M900.6 348.1L900.3 349.3L899.7 350.5L898.6 351.6L897.2 352.6L895.4 353.3L893.5 353.8L891.4 354.1L889.2 354.1L887.1 353.8L885.2 353.3L883.4 352.6L882.0 351.6L880.9 350.5L880.2 349.3L880.0 348.1L880.2 346.8L880.9 345.6L882.0 344.5L883.4 343.6L885.2 342.9L887.1 342.3L889.2 342.1L891.4 342.1L893.5 342.3L895.4 342.9L897.2 343.6L898.6 344.5L899.7 345.6L900.3 346.8L900.6 348.1Z"/>
<path d="M871.2 349.9L871.2 371.6"/>
<path d="M909.9 349.9L909.9 366.8"/>
<path d="M871.2 359.9Q877.1 370.7 890.5 370.7Q903.5 370.5 909.9 360.5"/>
<path d="M871.8 369.5Q878.1 377.9 890.5 377.9Q902.5 377.6 908.0 370.3"/>
<path d="M874.9 375.8Q882.4 381.6 890.5 381.3Q900.4 380.8 905.9 374.0"/>
<path d="M871.2 366.8L868.4 368.6L868.4 377.9L868.1 386.9Q870.7 390.7 875.5 393.8L878.1 394.9Q889.8 396.2 902.5 394.4L906.2 392.2Q910.4 389.6 912.9 385.4L912.5 368.6L909.9 366.3"/>
<path d="M868.4 376.9L878.1 385.4L902.5 385.4L912.5 375.8"/>
<path class="t" d="M880.2 385.4L900.9 385.4"/>
<path d="M878.1 385.4L878.1 394.9"/>
<path d="M902.5 385.4L902.5 394.4"/>
<path d="M874.4 393.8L874.4 407.6Q881.3 415.0 890.5 415.0Q900.4 414.5 906.5 406.5L906.5 392.2"/>
<path d="M875.5 394.4Q882.4 400.2 890.5 400.2Q900.4 399.7 906.2 392.8"/>
<path d="M874.4 401.2Q882.4 408.7 890.5 408.7Q900.4 408.1 906.5 400.7"/>
</g>
<g id="p8">
<path d="M480.9 560.5L582.8 560.5L590.3 591.9L590.3 628.6L473.0 628.6L473.0 591.9Z"/>
<path d="M480.9 560.5Q489.1 565.1 490.8 575.6L490.8 589.6"/>
<path d="M582.8 560.5Q576.4 565.1 575.2 575.6L575.2 589.6"/>
<path d="M490.8 577.3L575.2 577.3"/>
<path d="M490.8 589.6L575.2 589.6"/>
<path d="M497.8 577.3L497.8 589.6"/>
<path d="M504.2 577.3L504.2 589.6"/>
<path d="M490.8 582.6L504.2 582.6"/>
<path d="M561.2 577.3L561.2 589.6"/>
<path d="M567.6 577.3L567.6 589.6"/>
<path d="M561.2 582.6L575.2 582.6"/>
<path d="M511.8 577.9L515.9 582.4L548.4 582.4L551.9 577.9"/>
<path d="M490.8 589.8Q482.1 592.5 481.5 600.0L481.5 615.2Q483.3 622.2 487.9 623.5L574.6 623.5Q581.0 621.0 582.2 615.2L582.2 598.9Q581.0 592.1 575.2 589.8"/>
<path d="M491.4 594.8L572.3 594.8Q576.4 596.0 576.7 600.0L576.7 613.4Q575.8 618.1 571.1 618.7L529.8 618.7L529.8 619.6L490.3 619.6Q486.8 617.5 486.5 612.8L487.3 598.9Q487.9 596.0 491.4 594.8"/>
<path d="M492.6 600.6L492.6 612.8L497.2 612.8L497.2 616.9L506.5 616.9L506.5 612.8L511.8 612.8L511.8 600.6L506.5 600.6L506.5 597.1L497.2 597.1L497.2 600.6Z"/>
<path d="M494.9 601.2L494.9 611.9"/>
<path d="M509.1 601.2L509.1 611.9"/>
<path d="M498.4 598.9L506.5 598.9"/>
<path d="M498.4 615.2L506.0 615.2"/>
<path d="M522.5 600.6L522.5 612.8L527.3 612.8L527.3 616.9L536.8 616.9L536.8 612.8L542.0 612.8L542.0 600.6L536.8 600.6L536.8 597.1L527.3 597.1L527.3 600.6Z"/>
<path d="M524.8 601.2L524.8 611.9"/>
<path d="M539.4 601.2L539.4 611.9"/>
<path class="t" d="M528.1 597.7L536.8 597.7"/>
<path d="M528.7 615.2L536.2 615.2"/>
<path d="M548.4 600.0L548.4 612.3L553.1 612.3L553.1 615.2L562.4 615.2L562.4 612.3L568.2 612.3L568.2 600.0L563.0 600.0L563.0 596.3L553.7 596.3L553.7 600.0Z"/>
<path d="M550.8 600.6L550.8 611.4"/>
<path d="M565.7 600.6L565.7 611.4"/>
<path d="M554.5 597.9L562.4 597.9"/>
<path class="t" d="M553.7 614.2L562.4 614.2"/>
<path d="M480.9 628.6L480.9 642.5L494.3 642.5L494.9 645.4L501.9 645.4L502.5 650.7L511.2 650.7L511.8 648.7L506.0 648.3L505.4 646.0"/>
<path d="M505.4 644.3L521.1 643.7"/>
<path d="M582.8 628.6L582.8 642.5L565.9 642.5L565.3 644.8L558.9 645.4L558.9 650.7L550.8 650.7L550.2 648.9L556.0 647.8L556.6 645.7"/>
<path d="M540.9 644.0L565.3 643.1"/>
<path d="M515.3 628.6L521.7 643.1L522.8 646.6L539.7 646.6L540.9 643.1L547.3 626.8"/>
<path d="M520.5 640.2L541.5 640.2"/>
<path d="M521.1 641.9L540.9 641.9"/>
</g>
<g id="p9">
<path d="M757.7 554.8L745.6 548.4Q744.3 547.4 744.3 544.7L744.3 516.7Q745.0 514.0 748.8 514.6L757.2 519.5"/>
<path d="M757.7 521.4L757.7 555.3"/>
<path d="M750.9 522.0L753.0 522.0L754.6 524.6L754.0 526.5L751.4 526.2L750.3 523.6Z"/>
<path d="M750.9 544.7L752.8 544.7L754.6 547.4L753.8 549.5L751.4 549.0L750.3 546.3Z"/>
<path d="M757.2 519.5L786.8 502.9Q790.0 500.8 794.2 503.5"/>
<path d="M757.7 521.4L789.5 504.5"/>
<path d="M789.5 504.0L789.5 537.8"/>
<path d="M757.7 555.1L789.5 537.8"/>
<path d="M789.5 537.8L819.6 565.3Q830.2 575.4 834.4 595.0L839.3 607.2L852.0 615.1"/>
<path d="M793.2 505.0L801.6 513.0"/>
<path d="M795.3 504.0L802.7 511.4"/>
<path d="M797.4 516.2L802.7 511.9L809.1 508.8L895.3 594.5L895.3 596.6L883.7 603.5L797.4 516.2"/>
<path d="M799.0 515.3L884.2 600.9L894.8 594.5"/>
<path d="M839.3 607.2L946.7 668.6"/>
<path d="M852.0 615.1L862.0 644.2Q867.3 652.7 875.8 657.5Q884.2 658.0 887.4 652.7L888.5 646.4L890.6 646.4L904.3 653.8L906.5 658.0L909.6 669.6Q912.8 677.0 920.2 682.3L923.4 685.0"/>
<path d="M929.7 685.0L947.7 677.0Q953.0 669.6 954.6 663.3L951.9 663.8L946.7 668.6"/>
<path d="M923.4 685.0L929.7 685.0"/>
<path d="M866.8 632.6L870.5 631.0L874.7 633.1L879.0 640.0L879.5 645.8L876.8 647.4L872.6 645.8L868.4 641.1L866.3 635.8Z"/>
<path d="M868.2 634.2Q869.4 642.1 875.2 646.6"/>
<path d="M914.9 660.6L918.1 659.1L922.3 660.6L926.6 667.5L927.6 673.9L925.0 675.4L920.7 673.9L916.5 668.6L914.4 663.3Z"/>
<path d="M916.2 662.2Q917.6 669.6 923.4 674.7"/>
<path d="M890.1 599.8L896.9 607.7L902.2 607.7"/>
<path d="M892.2 598.8L898.0 606.2L901.2 606.2Q905.4 609.3 906.5 615.7Q907.5 629.4 914.9 640.0Q922.3 649.5 929.7 652.2Q935.0 651.6 939.2 646.4"/>
<path d="M902.8 610.4Q903.8 616.7 904.9 624.1Q908.6 637.9 918.1 647.4L926.6 652.7L930.8 652.2"/>
<path d="M892.7 613.6L894.8 611.4L899.1 610.9L902.8 613.0L903.8 617.8L901.2 621.5L896.9 622.0L893.8 618.9Z"/>
<path d="M899.1 611.4Q901.7 615.7 900.6 621.5"/>
<path class="t" d="M906.2 608.5L908.6 607.5L910.5 610.4L910.3 614.4L908.1 614.9L906.5 612.3Z"/>
<path d="M907.0 609.1L909.8 613.8"/>
<path d="M909.6 608.8L907.3 613.6"/>
<path d="M938.7 641.1L940.8 637.9L944.5 637.4L948.2 639.5L948.8 645.3L946.1 648.5L941.9 648.5L939.2 645.3Z"/>
<path d="M940.3 636.8Q942.4 633.1 946.7 633.7L950.4 635.8"/>
<path d="M944.5 637.4Q947.2 642.1 946.1 648.5"/>
<path d="M951.4 634.7L954.6 634.2L956.7 637.4L956.2 640.5L953.5 641.3L951.4 638.4Z"/>
<path d="M951.9 635.8L955.6 639.5"/>
<path d="M955.1 635.2L952.5 640.0"/>
<path d="M950.4 635.8L949.8 659.1L948.2 666.5"/>
<path d="M952.5 641.1L952.5 658.0L951.4 663.8"/>
</g>
<g id="p10">
<path d="M1226.1 562.2L1232.1 549.0L1289.7 574.8Q1300.4 588.0 1301.0 596.3Q1300.4 603.5 1295.7 607.1L1255.5 629.3"/>
<path d="M1248.3 556.8L1254.9 556.2L1264.5 568.2"/>
<path d="M1283.7 583.2L1250.7 601.7"/>
<path d="M1223.7 564.0L1175.2 592.8"/>
<path d="M1226.1 562.2L1223.7 564.0L1230.9 568.2"/>
<path d="M1236.9 563.4Q1233.3 565.8 1230.9 571.2L1187.8 595.1Q1184.8 598.7 1183.6 611.9"/>
<path d="M1239.3 564.6Q1235.7 567.6 1232.7 573.6L1191.3 596.9Q1188.4 599.9 1187.2 609.5"/>
<path d="M1236.9 563.4L1240.5 564.6L1249.5 568.8Q1248.9 573.6 1245.3 578.4L1253.7 582.6"/>
<path class="t" d="M1238.7 564.3L1242.3 565.4"/>
<path d="M1264.5 568.2Q1260.9 576.0 1254.9 582.6L1209.3 608.3Q1205.7 611.9 1205.1 622.7"/>
<path d="M1263.9 571.4Q1260.9 578.4 1256.1 584.6L1211.7 610.4Q1208.1 613.7 1207.5 621.5"/>
<path d="M1245.3 578.4L1202.1 602.3"/>
<path d="M1214.1 585.0L1221.9 588.6"/>
<path d="M1209.9 587.4L1217.7 591.0"/>
<path d="M1205.7 589.8L1212.9 593.4"/>
<path d="M1201.5 592.2L1208.7 595.7"/>
<path d="M1197.3 594.5L1204.5 598.1"/>
<path d="M1193.1 596.9L1200.3 600.5"/>
<path d="M1190.1 600.5L1197.3 605.3"/>
<path d="M1176.4 591.6L1175.2 592.8L1172.2 596.3L1174.6 608.3L1183.6 612.5L1183.6 598.7L1175.2 594.0"/>
<path d="M1187.8 607.1L1194.9 610.7L1195.5 619.1L1205.7 623.9"/>
<path d="M1197.3 605.3L1204.5 608.9"/>
<path d="M1238.1 598.2Q1250.1 608.0 1254.9 622.4L1254.9 635.6L1229.7 652.3"/>
<path d="M1211.7 612.1Q1226.4 622.0 1227.9 642.8"/>
<path d="M1214.7 610.5Q1229.4 622.1 1230.9 644.5"/>
<path d="M1218.9 608.3Q1233.5 621.9 1235.1 646.3"/>
<path d="M1222.5 606.5Q1237.1 620.5 1238.7 645.1"/>
<path d="M1226.7 604.3Q1241.1 618.4 1242.3 643.4"/>
<path d="M1230.3 602.5Q1244.7 616.3 1245.9 641.0"/>
<path d="M1233.9 600.6Q1248.3 614.1 1249.5 638.6"/>
<path d="M1236.9 599.0Q1251.3 612.4 1252.5 636.8"/>
<path d="M1154.8 612.2Q1151.8 614.6 1151.2 624.2L1154.2 635.0L1160.2 642.2L1179.4 652.9L1193.7 660.7Q1198.5 661.9 1202.1 659.5L1203.9 656.5Q1204.5 647.5 1199.7 638.0Q1196.1 632.0 1191.3 629.6L1160.8 612.8L1154.8 612.2"/>
<path d="M1165.3 624.9L1165.9 626.8L1166.2 628.7L1166.1 630.5L1165.6 631.9L1164.8 633.1L1163.8 633.8L1162.5 634.0L1161.2 633.7L1159.8 633.0L1158.5 631.8L1157.3 630.3L1156.4 628.5L1155.9 626.6L1155.6 624.7L1155.7 622.9L1156.2 621.4L1157.0 620.3L1158.0 619.6L1159.3 619.3L1160.6 619.6L1162.0 620.4L1163.3 621.6L1164.4 623.1Z"/>
<path d="M1179.1 633.3L1179.7 635.1L1179.9 637.0L1179.8 638.7L1179.3 640.1L1178.5 641.3L1177.5 642.0L1176.2 642.2L1174.9 641.9L1173.5 641.2L1172.2 640.1L1171.1 638.6L1170.2 636.9L1169.7 635.0L1169.4 633.2L1169.6 631.5L1170.0 630.0L1170.8 628.9L1171.9 628.2L1173.1 628.0L1174.5 628.2L1175.9 628.9L1177.1 630.1L1178.3 631.6Z"/>
<path d="M1193.8 641.1L1194.3 642.9L1194.5 644.8L1194.4 646.5L1193.9 647.9L1193.1 649.1L1192.1 649.8L1190.8 650.0L1189.5 649.7L1188.1 649.0L1186.9 647.9L1185.7 646.4L1184.9 644.7L1184.3 642.8L1184.1 641.0L1184.2 639.3L1184.7 637.8L1185.5 636.7L1186.5 636.0L1187.8 635.7L1189.1 636.0L1190.5 636.7L1191.8 637.9L1192.9 639.3Z"/>
<path d="M1151.2 606.8Q1147.0 607.4 1146.4 614.6L1150.6 624.2"/>
<path d="M1147.0 612.8L1150.0 623.0"/>
<path d="M1151.2 606.8L1154.8 609.2L1172.2 600.2"/>
<path d="M1156.6 611.0L1174.6 601.4"/>
<path d="M1203.9 649.3L1218.9 641.6L1224.3 640.4L1228.5 642.8L1221.3 646.3L1227.3 648.7L1226.7 653.5L1221.3 657.1L1214.1 658.3L1205.1 656.5"/>
<path d="M1205.7 651.7Q1214.1 654.1 1224.3 651.1"/>
<path d="M1209.3 620.0Q1216.5 628.4 1218.9 640.4"/>
<path d="M1211.7 619.4Q1218.9 629.6 1220.7 640.4"/>
<path d="M1197.9 632.6L1205.7 628.4"/>
</g>
<g id="p11">
<path d="M162.6 564.8L154.4 561.1Q147.0 561.1 144.1 569.3Q141.8 576.7 144.8 581.8L153.7 586.3"/>
<path d="M162.6 564.8Q154.4 570.7 153.7 586.3L154.4 590.0L163.3 595.2L168.5 593.0Q169.2 588.5 169.2 584.1"/>
<path d="M162.6 564.8L172.2 565.6L178.1 569.3Q179.6 573.7 178.9 577.4"/>
<path d="M166.3 565.6Q158.1 572.2 157.4 588.5L159.6 592.2"/>
<path d="M173.7 567.0Q162.6 572.2 161.8 585.5L163.3 590.0L168.5 592.2"/>
<path d="M175.2 572.2Q166.3 573.7 165.5 584.1L167.0 587.8"/>
<path d="M178.9 577.4L175.2 578.1Q170.7 579.6 170.0 585.5L170.7 592.2"/>
<path d="M178.9 577.4Q192.9 585.5 210.7 589.2L224.0 590.7"/>
<path d="M170.7 592.2Q187.0 597.4 204.8 601.1L219.6 603.0"/>
<path d="M227.0 587.8L220.3 594.4L225.5 597.4L215.9 606.3"/>
<path d="M233.7 587.8L227.0 594.4L228.5 601.1L221.1 607.0"/>
<path d="M230.7 590.7Q243.3 590.7 252.2 593.7Q264.0 600.4 270.0 612.2Q275.9 627.0 278.8 653.7L279.6 677.4"/>
<path d="M228.5 601.8Q240.3 601.8 247.7 604.8Q256.6 609.2 261.1 619.6Q265.5 632.9 267.0 653.7L267.7 677.4Q270.0 681.1 274.4 681.1Q278.8 680.3 279.6 677.4"/>
<path d="M266.2 673.7L256.6 678.9L270.0 687.8L283.3 682.6L284.8 678.9Q284.0 674.4 280.3 673.0"/>
<path d="M270.0 687.8L272.9 692.2L284.8 686.3"/>
<path d="M206.3 701.1Q210.7 686.3 224.0 678.1Q237.4 673.7 247.7 675.2L256.6 678.9"/>
<path d="M206.3 700.4L225.5 689.3Q237.4 687.0 246.3 692.2Q264.0 702.6 272.9 713.0"/>
<path d="M224.0 678.1Q240.3 678.9 255.1 686.3Q270.0 698.1 274.4 711.5"/>
<path d="M284.8 678.9Q302.5 692.2 309.9 714.4Q315.9 732.2 311.4 747.0Q308.5 754.4 301.1 757.4"/>
<path d="M272.9 713.0L267.7 714.4L274.4 728.5L278.8 727.8"/>
<path d="M267.7 714.4L287.7 706.3L291.4 714.4L280.3 719.6L281.8 726.3"/>
<path d="M272.9 713.0L287.0 707.0"/>
<path d="M280.3 720.7L291.0 716.2"/>
<path d="M278.8 727.8Q287.7 752.9 280.3 773.7Q277.4 779.6 271.4 781.8"/>
<path d="M281.8 726.3Q292.2 752.9 287.7 776.6Q284.8 784.0 277.4 788.5"/>
<path d="M291.4 714.4Q301.1 736.6 300.3 758.9Q298.1 776.6 284.8 784.8"/>
<path d="M206.3 701.1L177.4 717.4L143.3 737.4"/>
<path d="M177.4 717.4L146.3 712.2L135.9 718.9Q132.2 721.8 133.0 729.2L137.4 738.9L143.3 737.4"/>
<path d="M138.1 719.6L165.5 724.1"/>
<path d="M137.4 729.2Q138.1 724.1 141.8 724.5Q147.0 727.0 148.2 735.2"/>
<path d="M137.4 729.2Q138.9 735.2 141.8 737.8"/>
<path d="M136.7 739.6Q130.7 744.1 128.5 752.9"/>
<path d="M136.7 739.6Q151.5 736.6 164.8 745.5Q175.2 754.4 179.6 758.9"/>
<path d="M141.8 745.5Q154.4 742.6 164.8 750.0Q172.2 755.9 176.6 760.3"/>
<path d="M129.3 752.9Q144.1 748.5 154.4 754.4Q161.8 760.3 165.5 764.8"/>
<path d="M128.5 752.6Q123.3 759.3 122.6 771.1Q124.1 788.9 133.7 803.7Q144.1 820.0 161.8 829.6L173.7 831.1L185.5 830.3Q192.9 828.1 197.4 824.4L230.7 805.2"/>
<path d="M134.4 776.3L184.1 758.5L187.8 755.6Q197.4 751.8 204.8 755.6Q213.7 764.4 215.9 777.0Q216.6 785.9 212.2 790.4L207.7 792.1L175.2 800.7L158.9 809.6Q153.0 812.6 148.5 811.1Q139.6 805.2 135.2 793.3Q133.0 784.4 134.4 776.3"/>
<path d="M187.8 756.0Q197.4 758.5 203.3 766.7Q209.2 777.0 210.7 789.6"/>
<path d="M190.7 772.6Q191.5 768.1 195.2 768.6Q201.1 771.8 202.6 780.0Q201.1 783.2 197.4 782.2Q192.2 778.8 190.7 772.6"/>
<path d="M197.4 769.6Q201.8 776.3 200.0 782.2"/>
<path d="M137.4 790.4L141.8 786.2L150.7 787.7L154.4 796.0L153.2 801.5L147.0 805.5L141.1 802.2Z"/>
<path d="M141.8 786.2L146.7 790.1L154.4 796.0"/>
<path d="M146.7 790.1L147.0 805.5"/>
<path d="M137.4 790.4Q135.9 797.8 141.1 802.2"/>
<path d="M184.1 800.0Q186.3 811.1 181.1 822.9L173.7 830.6"/>
<path d="M194.4 796.3Q196.6 809.6 192.2 821.5L185.5 830.0"/>
<path d="M199.6 794.8Q201.1 809.6 197.4 824.1"/>
<path d="M230.7 759.3L240.3 753.6L272.2 782.2Q276.6 788.9 277.4 797.8L274.4 803.7L262.5 809.6Q258.1 811.1 252.2 808.9L232.9 805.2L230.7 805.2Q237.4 788.9 233.7 769.6Q232.9 763.7 230.7 759.3"/>
<path d="M264.0 787.4Q267.7 796.3 266.2 807.4"/>
<path d="M250.7 794.1Q251.4 789.2 255.9 790.1Q261.1 794.1 261.4 801.5Q259.6 804.7 255.9 803.4Q251.4 800.0 250.7 794.1"/>
</g>
<g id="p1213">
<path d="M485.1 811.7L481.6 813.7L478.6 818.3L478.1 825.3L480.1 833.3L485.1 841.4L494.2 849.4L500.2 850.4L506.2 847.9L507.7 844.4L507.7 835.4L505.2 827.3L499.2 818.3L492.1 812.7Z"/>
<path d="M485.1 811.7L490.1 809.2L495.2 809.2Q503.2 814.2 508.2 821.3Q513.3 830.3 513.8 836.4L512.3 842.4L507.7 846.9"/>
<path d="M484.6 824.3L485.6 821.3L489.1 819.3L493.2 820.3L499.2 826.3L502.2 833.3L502.7 839.4L500.2 842.4L496.2 842.6L491.1 839.9L486.6 834.4L484.6 828.3Z"/>
<path d="M489.1 819.8Q489.1 828.3 494.2 835.4L500.2 840.9"/>
<path d="M523.8 790.6L539.4 793.1L547.5 810.2L544.9 825.3L529.4 821.3L520.3 802.7Z"/>
<path d="M523.8 790.6L525.3 788.1L536.9 782.6L550.5 786.1L539.4 793.1"/>
<path d="M550.5 786.1L561.5 804.7L548.0 810.7"/>
<path d="M561.5 804.7L557.0 818.3L545.4 824.8"/>
<path d="M536.9 782.6Q545.4 780.1 552.5 782.6Q560.5 787.6 564.5 797.1L564.5 805.2Q563.5 810.2 559.5 813.2"/>
<path d="M525.3 800.2L526.8 796.6L530.4 795.1L534.4 796.6L540.4 804.2L543.9 811.2L542.9 816.8L539.4 819.3L534.4 818.3L529.4 813.2L525.8 806.2Z"/>
<path d="M530.4 795.6Q530.9 803.2 535.4 810.2L541.9 815.8"/>
</g>
<g id="p14">
<path d="M823.1 775.6L823.1 757.8Q824.6 751.9 832.0 751.1Q840.9 752.6 846.1 762.2Q850.6 772.6 850.6 788.9L847.6 788.9L823.1 775.6"/>
<path d="M830.6 750.4Q836.5 748.1 842.4 750.4Q851.3 756.3 855.0 766.7Q856.5 774.1 856.5 783.0L851.3 788.1"/>
<path d="M856.5 776.3L867.6 781.5"/>
<path d="M830.6 767.4L832.0 762.2L835.7 761.0L840.9 765.2L843.6 773.3L842.1 778.2L838.0 778.8L832.8 774.1Z"/>
<path d="M847.6 788.9Q846.9 803.7 838.0 817.0Q832.0 825.9 823.1 833.3"/>
<path d="M851.3 788.1L864.6 786.7Q872.0 788.9 874.3 799.3Q875.0 814.1 867.6 828.9Q861.7 840.7 852.0 847.4"/>
<path d="M867.6 781.5Q875.0 784.4 878.0 791.9Q880.9 803.7 878.0 817.0Q872.0 834.8 860.2 846.7L856.5 849.6"/>
<path d="M823.1 833.3L850.6 847.4L850.6 867.4Q846.9 871.1 840.9 871.1Q832.0 868.9 826.9 858.5Q823.1 849.6 823.1 833.3"/>
<path d="M850.6 847.4L856.5 849.6L856.5 863.0L850.6 867.4"/>
<path d="M830.6 851.1L832.0 846.4L835.7 845.2L840.9 849.3L843.6 857.3L842.1 862.2L838.0 863.0L832.8 858.2Z"/>
</g>
<g id="p1516">
<path d="M1162.1 828.3L1165.1 826.3L1171.1 826.3L1176.1 830.3L1180.2 836.4L1181.7 842.4L1180.7 847.9L1176.1 850.9L1171.1 851.4L1166.1 848.4L1161.1 842.4L1159.0 835.4Z"/>
<path d="M1163.1 830.3L1166.1 828.3L1170.1 828.8L1174.6 832.8L1177.7 839.4L1178.7 845.4L1176.1 848.9L1171.6 849.9L1167.1 846.9L1162.6 840.9L1160.6 834.9Z"/>
<path d="M1163.6 832.8L1166.1 831.3L1169.6 832.8L1173.1 837.9L1174.6 843.9L1173.6 847.4L1170.6 847.9L1166.6 844.9L1163.6 839.4L1162.6 835.4Z"/>
<path d="M1166.1 832.3Q1166.1 839.4 1171.1 845.9"/>
<path class="t" d="M1172.6 846.9L1174.1 846.4"/>
<path d="M1207.3 806.7L1227.4 795.1"/>
<path d="M1215.4 823.3L1237.5 811.7"/>
<path d="M1207.3 806.7Q1203.8 810.2 1204.8 815.2Q1207.3 821.3 1213.3 824.3L1215.4 823.3"/>
<path d="M1207.3 806.7Q1214.4 810.2 1216.9 817.3L1215.9 822.8"/>
<path d="M1211.3 804.7Q1219.4 809.2 1221.9 819.8"/>
<path d="M1216.4 801.7Q1224.4 806.7 1227.4 816.8"/>
<path d="M1220.4 799.2Q1229.4 804.2 1232.5 814.2"/>
<path d="M1224.9 796.6Q1234.0 801.2 1237.5 811.2"/>
<path d="M1227.4 795.1Q1229.4 792.6 1233.5 792.1Q1239.5 795.1 1242.0 802.2Q1243.0 808.2 1238.5 811.2"/>
<path d="M1229.9 794.6Q1235.5 794.1 1239.5 799.2Q1243.0 805.2 1240.5 809.7"/>
<path d="M1227.4 795.1L1229.4 787.6L1237.5 783.1L1247.5 785.1L1255.1 798.2L1252.6 808.2L1244.0 813.2L1238.5 811.2"/>
<path d="M1229.4 787.6L1240.5 790.1L1247.5 785.1"/>
<path d="M1240.5 790.1L1246.5 803.2L1255.1 798.7"/>
<path d="M1246.5 803.2L1244.0 813.2"/>
<path d="M1240.5 790.1Q1244.5 796.1 1244.0 809.2"/>
</g>
</g>
</svg>
</body></html>
